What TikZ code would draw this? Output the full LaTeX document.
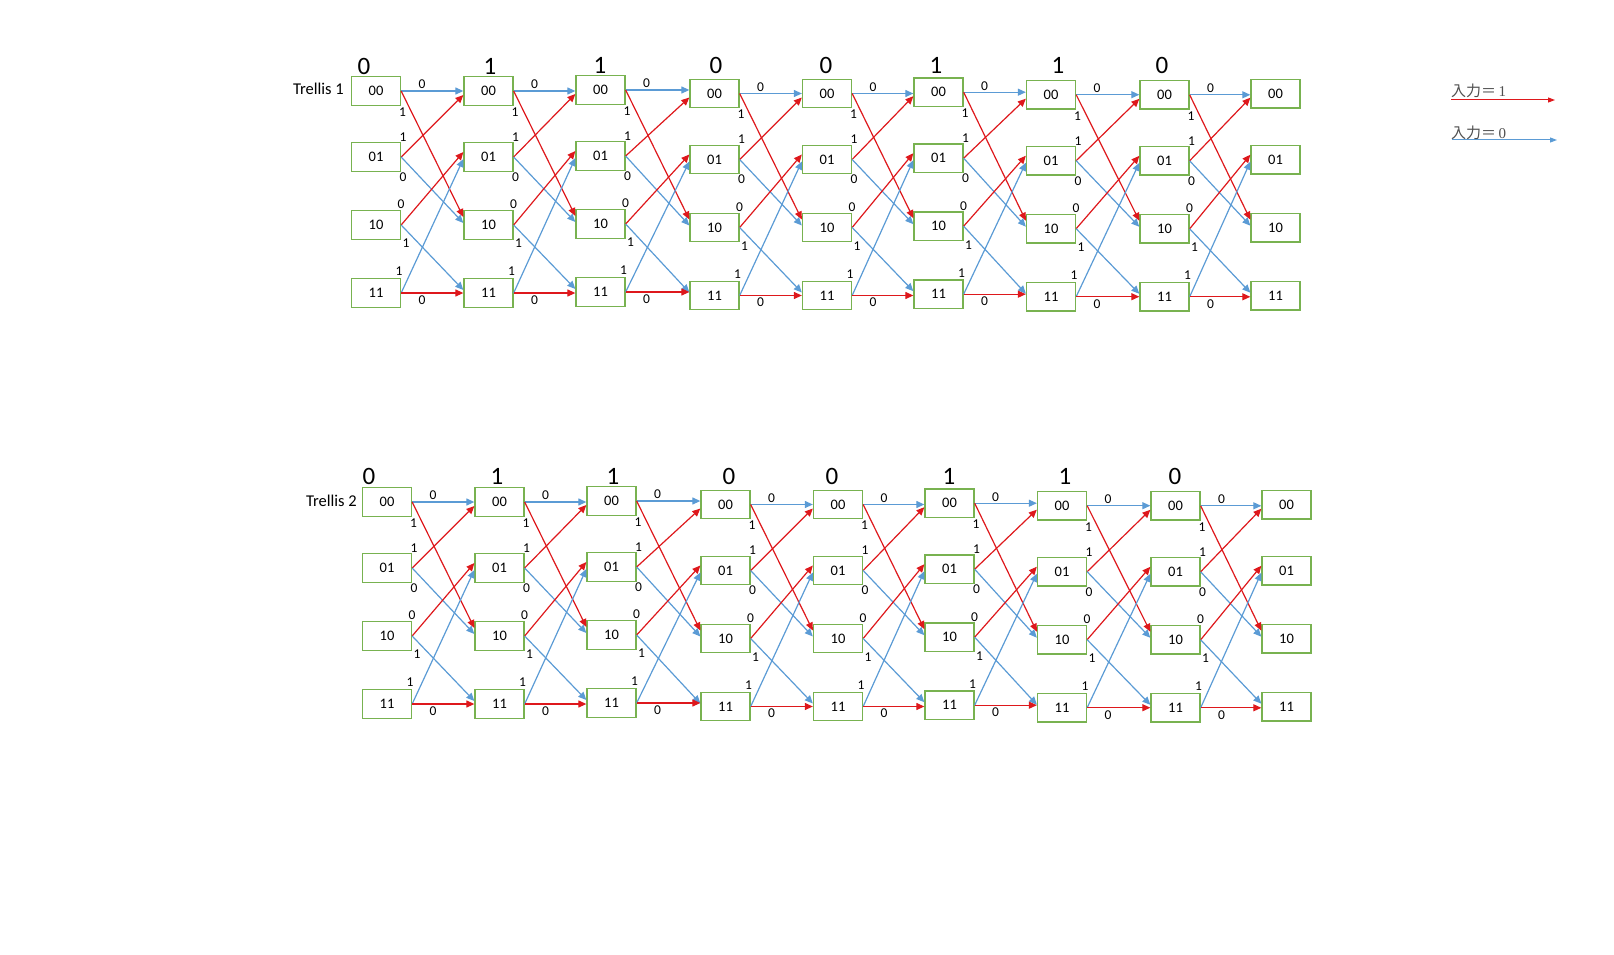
\documentclass[tikz,border=0pt]{standalone}
\usepackage{fontspec}
\setmainfont{Carlito}
\newfontfamily\cjkfont{Noto Sans CJK JP}
\newfontfamily\serifdig{Liberation Serif}
\usetikzlibrary{arrows.meta,calc}
\definecolor{rd}{RGB}{222,24,28}
\definecolor{bl}{RGB}{91,155,213}
\definecolor{gr}{RGB}{120,178,80}
\definecolor{lg}{RGB}{80,80,80}
\tikzset{
 stbox/.style={draw=gr, line width=1.3pt, minimum width=49pt, minimum height=28.5pt, inner sep=0pt, font=\fontsize{14.5}{16}\selectfont, fill=white},
 redarr/.style={draw=rd, line width=1.2pt, -{Triangle[length=8pt,width=7pt]}},
 bluearr/.style={draw=bl, line width=1.2pt, -{Triangle[length=8pt,width=7pt]}},
 legred/.style={draw=rd, line width=1pt, -{Triangle[length=7pt,width=5pt]}},
 legblue/.style={draw=bl, line width=1pt, -{Triangle[length=7pt,width=5pt]}},
 elab/.style={font=\fontsize{13.5}{15}\selectfont, inner sep=0pt},
 biglab/.style={font=\fontsize{25}{28}\selectfont, inner sep=0pt},
 ttl/.style={font=\fontsize{16.5}{19}\selectfont, inner sep=0pt, anchor=east},
 leg/.style={font=\fontsize{15}{17}\selectfont, text=lg, inner sep=0pt, anchor=base west},
}
\newcommand\drawtrellis[3]{%
  \foreach \cc/\xx/\dd in {0/376/0,1/488.5/0,2/600.5/-1,3/714.5/2.5,4/827/2.5,5/938.5/1.2,6/1051/3.7,7/1164.5/3.8,8/1275.5/2.7} {
    \foreach \rr/\yy/\tx in {0/91/00,1/157/01,2/225/10,3/293/11} {
      \node[stbox] (#1-\cc-\rr) at (\xx+#2, \yy+\dd+#3) {\tx};
    }
  }
  \foreach \cc/\nn in {0/1,1/2,2/3,3/4,4/5,5/6,6/7,7/8} {
    \draw[bluearr] (#1-\cc-0.east) -- (#1-\cc-0.east -| #1-\nn-0.west);
    \draw[redarr] (#1-\cc-0.east) -- ($(#1-\nn-2.west)+(0,-8)$);
    \draw[redarr] (#1-\cc-1.east) -- ($(#1-\nn-0.west)+(0,4)$);
    \draw[bluearr] (#1-\cc-1.east) -- ($(#1-\nn-2.west)+(0,-2)$);
    \draw[redarr] (#1-\cc-2.east) -- ($(#1-\nn-1.west)+(0,-5)$);
    \draw[bluearr] (#1-\cc-2.east) -- ($(#1-\nn-3.west)+(0,-3)$);
    \draw[bluearr] (#1-\cc-3.east) -- ($(#1-\nn-1.west)+(0,2)$);
    \draw[redarr] (#1-\cc-3.east) -- (#1-\cc-3.east -| #1-\nn-3.west);
    \node[elab] (#1-\cc-la) at ($(#1-\cc-0.east)+(21,-6.5)$) {0};
    \node[elab] (#1-\cc-lb) at ($(#1-\cc-0.east)+(1.5,21)$) {1};
    \node[elab] (#1-\cc-lc) at ($(#1-\cc-1.east)+(2,-20)$) {1};
    \node[elab] (#1-\cc-ld) at ($(#1-\cc-1.east)+(2,20)$) {0};
    \node[elab] (#1-\cc-le) at ($(#1-\cc-2.east)+(0,-20.5)$) {0};
    \node[elab] (#1-\cc-lf) at ($(#1-\cc-2.east)+(5,18.5)$) {1};
    \node[elab] (#1-\cc-lg) at ($(#1-\cc-3.east)+(-2,-21.5)$) {1};
    \node[elab] (#1-\cc-lh) at ($(#1-\cc-3.east)+(21,7)$) {0};
  }
}
\begin{document}
\begin{tikzpicture}[x=1pt,y=-1pt]
\useasboundingbox (0,0) rectangle (1614,955);
% Trellis 1
\drawtrellis{A}{0}{0}
\node[ttl] (A-title) at (344,89) {Trellis 1};
\foreach \ii/\xx/\yy/\tx in {0/364/66/0,1/490/66/1,2/600/65/1,3/716/65/0,4/826/65/0,5/936/65/1,6/1058/65/1,7/1162/65/0} {
  \node[biglab] (A-bit-\ii) at (\xx,\yy) {\tx};
}
% Trellis 2
\drawtrellis{B}{11}{411}
\node[ttl] (B-title) at (357,501) {Trellis 2};
\foreach \ii/\xx/\yy/\tx in {0/369/476/0,1/497/476/1,2/613/476/1,3/729/476/0,4/832/476/0,5/949/476/1,6/1065/476/1,7/1175/476/0} {
  \node[biglab] (B-bit-\ii) at (\xx,\yy) {\tx};
}
% Legend
\coordinate (lr1) at (1451,100);
\coordinate (lr2) at (1555,100);
\draw[legred] (lr1) -- (lr2);
\node[leg] (lt1) at (1451,97) {{\cjkfont 入力＝}\,{\serifdig 1}};
\coordinate (lb1) at (1452,140);
\coordinate (lb2) at (1557,140);
\draw[legblue] (lb1) -- (lb2);
\node[leg] (lt2) at (1451,138.5) {{\cjkfont 入力＝}\,{\serifdig 0}};
\end{tikzpicture}
\end{document}
